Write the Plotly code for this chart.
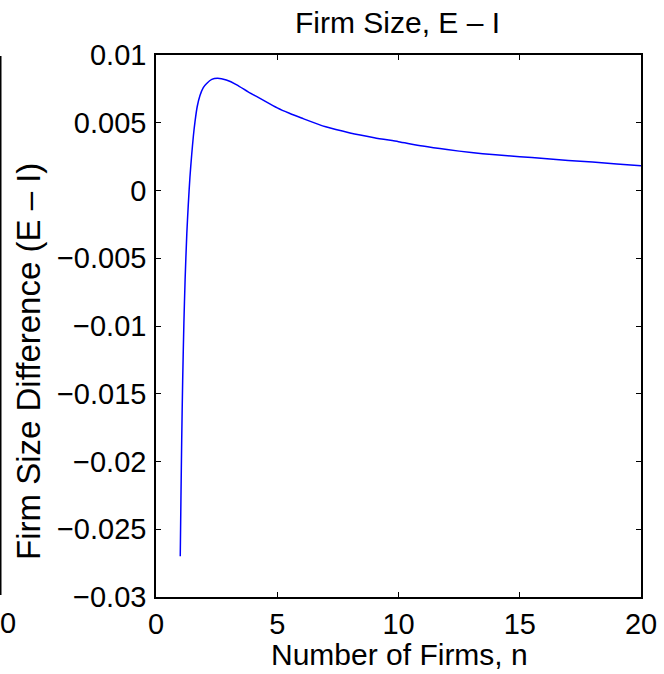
import plotly.graph_objects as go

# Data
n_firms = [1.0, 1.03, 1.06, 1.1, 1.15, 1.2, 1.27, 1.33, 1.4, 1.47, 1.54, 1.61, 1.7,
           1.81, 1.95, 2.09, 2.3, 2.54, 2.9, 3.33, 3.8, 4.29, 5.0, 5.5, 6.0, 7.0,
           8.0, 9.0, 10.0, 11.0, 12.0, 13.0, 14.0, 15.0, 16.0, 17.0, 18.0, 19.0, 20.0]
size_diff = [-0.0270, -0.0225, -0.0184, -0.0140, -0.0098, -0.0066, -0.0032, -0.0011,
             0.0010, 0.0026, 0.0040, 0.0051, 0.0062, 0.0070, 0.0076, 0.0079, 0.0082,
             0.00828, 0.00815, 0.0078, 0.00728, 0.0068, 0.0061, 0.0057, 0.00535, 0.0047,
             0.00425, 0.0039, 0.0036, 0.00328, 0.00302, 0.0028, 0.00263, 0.0025, 0.00236,
             0.00222, 0.0021, 0.00195, 0.00183]

x_ticks = [0, 5, 10, 15, 20]
y_ticks = [-0.03, -0.025, -0.02, -0.015, -0.01, -0.005, 0, 0.005, 0.01]
y_tick_labels = ["\u22120.03", "\u22120.025", "\u22120.02", "\u22120.015", "\u22120.01",
                 "\u22120.005", "0", "0.005", "0.01"]

title_text = "Firm Size, E \u2013 I"
x_label = "Number of Firms, n"
y_label = "Firm Size Difference (E \u2013 I)"
neighbour_tick = "0"

FONT = "Liberation Sans, Arial, Helvetica, sans-serif"

W, H = 664, 674
L, R, T, B = 156, 23, 55, 77
plot_w = W - L - R
plot_h = H - T - B


def px_x(p):
    return (p - L) / plot_w


def px_y(p):
    return (H - B - p) / plot_h


fig = go.Figure()
fig.add_trace(go.Scatter(x=n_firms, y=size_diff, mode="lines",
                         line=dict(color="#0000ff", width=1.5, shape="spline", smoothing=0.7),
                         showlegend=False))

axis_common = dict(showline=True, linecolor="black", linewidth=1.5, mirror="ticks",
                   ticks="inside", ticklen=5, tickwidth=1, tickcolor="black",
                   showgrid=False, zeroline=False, automargin=False,
                   tickfont=dict(family=FONT, size=29, color="black"))

fig.update_xaxes(range=[0, 20], tickvals=x_ticks, ticktext=[str(v) for v in x_ticks],
                 **axis_common)
fig.update_yaxes(range=[-0.03, 0.01], tickvals=y_ticks, ticktext=y_tick_labels,
                 ticklabelstandoff=2, **axis_common)

# Axis titles and chart title
fig.add_annotation(xref="paper", yref="paper", x=px_x(399), y=px_y(654),
                   xanchor="center", yanchor="middle", showarrow=False, text=x_label,
                   font=dict(family=FONT, size=30, color="black"))
fig.add_annotation(xref="paper", yref="paper", x=px_x(28), y=px_y(362),
                   xanchor="center", yanchor="middle", showarrow=False, text=y_label,
                   textangle=-90, font=dict(family=FONT, size=33, color="black"))
fig.add_annotation(xref="paper", yref="paper", x=px_x(397.5), y=px_y(22.5),
                   xanchor="center", yanchor="middle", showarrow=False, text=title_text,
                   font=dict(family=FONT, size=30, color="black"))

# Edge of the neighbouring (cropped) panel on the left
fig.add_shape(type="line", xref="paper", yref="paper",
              x0=px_x(0.75), x1=px_x(0.75), y0=px_y(595), y1=px_y(56),
              line=dict(color="black", width=1.5))
fig.add_annotation(xref="paper", yref="paper", x=px_x(8), y=px_y(623),
                   yanchor="middle", xanchor="center", showarrow=False,
                   text=neighbour_tick, font=dict(family=FONT, size=29, color="black"))

fig.update_layout(
    width=W, height=H,
    margin=dict(l=L, r=R, t=T, b=B, autoexpand=False),
    paper_bgcolor="white", plot_bgcolor="white",
)

fig.write_html("out.html", config={"displayModeBar": False},
               post_script="document.body.style.margin='0';document.body.style.overflow='hidden';")
